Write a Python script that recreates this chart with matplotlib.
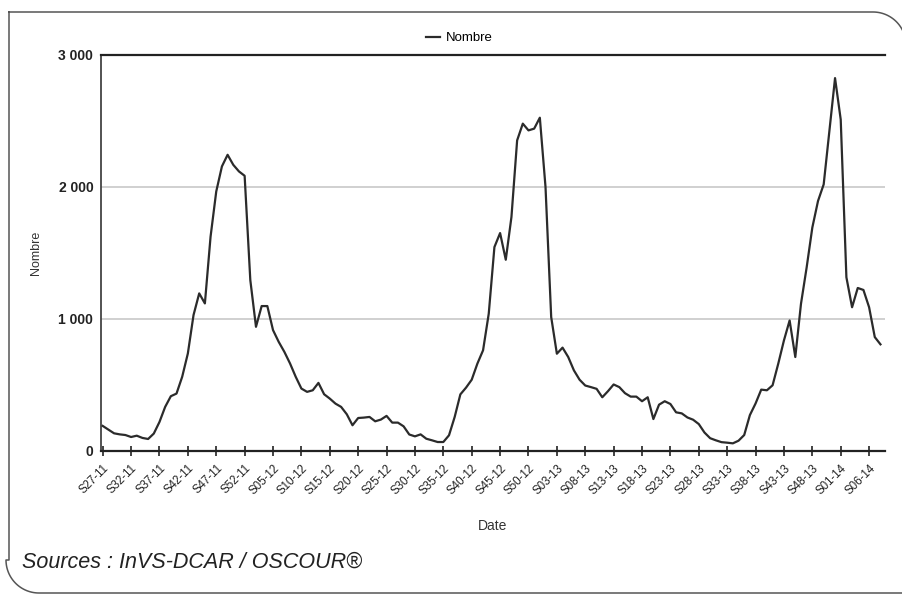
import numpy as np
import matplotlib
matplotlib.use("Agg")
import matplotlib.pyplot as plt

plt.rcParams['font.family'] = ['Liberation Sans', 'DejaVu Sans']

#---------------------------
# DATA (weekly counts, S27-11 .. S08-14)
#---------------------------
nombre = [
    190, 162, 134, 126, 121, 106, 116, 99, 91, 132,
    220, 334, 415, 435, 562, 739, 1030, 1194, 1118, 1624,
    1966, 2156, 2244, 2168, 2118, 2085, 1295, 941, 1098, 1098,
    916, 827, 751, 663, 562, 473, 448, 460, 516, 430,
    397, 359, 334, 278, 195, 250, 253, 258, 225, 238,
    266, 215, 215, 187, 125, 111, 126, 93, 81, 68,
    68, 119, 258, 429, 480, 540, 662, 763, 1040, 1545,
    1651, 1449, 1773, 2353, 2480, 2429, 2442, 2525, 2000, 1015,
    737, 783, 712, 611, 540, 496, 484, 471, 407, 453,
    504, 484, 438, 412, 412, 377, 407, 242, 351, 377,
    356, 293, 285, 254, 237, 204, 140, 97, 81, 67,
    63, 58, 78, 121, 272, 360, 465, 460, 498, 662,
    838, 989, 712, 1115, 1391, 1693, 1894, 2020, 2423, 2825,
    2511, 1316, 1089, 1235, 1220, 1089, 863, 808,
]

tick_labels = [
    "S27-11", "S32-11", "S37-11", "S42-11", "S47-11", "S52-11",
    "S05-12", "S10-12", "S15-12", "S20-12", "S25-12", "S30-12",
    "S35-12", "S40-12", "S45-12", "S50-12", "S03-13", "S08-13",
    "S13-13", "S18-13", "S23-13", "S28-13", "S33-13", "S38-13",
    "S43-13", "S48-13", "S01-14", "S06-14",
]
tick_step = 5

y_ticks = [0, 1000, 2000, 3000]
y_tick_labels = ["0", "1 000", "2 000", "3 000"]

W, H = 903, 594
fig = plt.figure(figsize=(W / 100, H / 100), dpi=100)

# outer rounded frame (pixel coordinates)
bg = fig.add_axes([0, 0, 1, 1], zorder=0)
bg.set_xlim(0, W)
bg.set_ylim(H, 0)
bg.axis("off")
r = 33
t1 = np.linspace(-np.pi / 2, 0, 30)
t2 = np.linspace(np.pi / 2, np.pi, 30)
fx = np.concatenate([[9, 873], 873 + r * np.cos(t1), [906, 39], 39 + r * np.cos(t2), [9, 9]])
fy = np.concatenate([[12, 12], 45 + r * np.sin(t1), [593, 593], 560 + r * np.sin(t2), [560, 12]])
bg.plot(fx, fy, color="#555555", lw=1.1)

ax = fig.add_axes([101 / W, 1 - 451 / H, (885 - 101) / W, (451 - 55) / H], zorder=1)
ax.patch.set_alpha(0)

x = np.arange(len(nombre))
ax.plot(x, nombre, color="#2b2b2b", lw=1.6, label="Nombre", zorder=3)

ax.set_xlim(-0.3, 137.8)
ax.set_ylim(0, 3000)

ax.set_yticks(y_ticks)
ax.set_yticklabels(y_tick_labels, fontsize=10, fontweight="bold", color="#222222")
ax.tick_params(axis="y", length=0, pad=5.5)
ax.yaxis.grid(True, color="#c8c8c8", lw=1.2)
ax.set_axisbelow(True)

ax.set_xticks(np.arange(0, len(tick_labels) * tick_step, tick_step))
ax.set_xticklabels(tick_labels, rotation=45, ha="right", rotation_mode="anchor",
                   fontsize=8.3, color="#222222")
ax.tick_params(axis="x", direction="inout", length=7, width=1.2, color="#222222", pad=4.5)

for side in ["top", "bottom"]:
    ax.spines[side].set_color("#222222")
    ax.spines[side].set_linewidth(1.6)
ax.spines["left"].set_color("#444444")
ax.spines["left"].set_linewidth(1.3)
ax.spines["right"].set_visible(False)

ax.set_ylabel("Nombre", fontsize=9, color="#333333", labelpad=12)
ax.set_xlabel("Date", fontsize=10, color="#333333", labelpad=16)

ax.legend(loc="center", bbox_to_anchor=((459 - 101) / 784, 1 + 17 / 396),
          frameon=False, fontsize=9.5, handlelength=1.1, handletextpad=0.4)

fig.text(22 / W, 1 - 568 / H, "Sources : InVS-DCAR / OSCOUR®", fontsize=15.5,
         style="italic", color="#222222", va="baseline")

fig.savefig("out.png", dpi=100)
